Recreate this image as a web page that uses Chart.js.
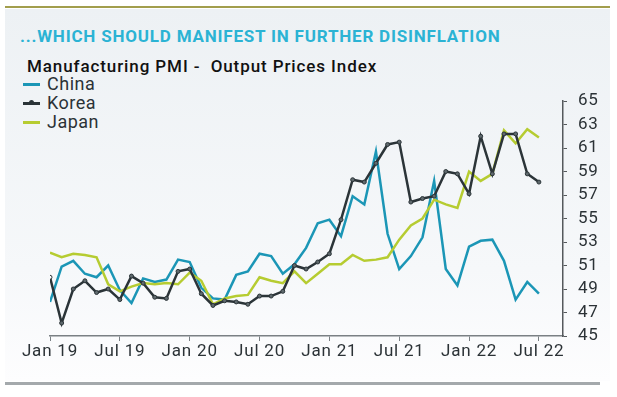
<!DOCTYPE html>
<html>
<head>
<meta charset="utf-8">
<script src="https://cdn.jsdelivr.net/npm/chart.js@4.4.0/dist/chart.umd.min.js"></script>
<style>
  body { margin: 0; width: 617px; height: 397px; background: #fff; position: relative; overflow: hidden; font-family: Roboto, sans-serif; }
  .panel { position: absolute; left: 5px; top: 9px; width: 605px; height: 372px;
           background: linear-gradient(#edf1f4, #f6f8fa 70%, #fdfdfe); }
  .topline { position: absolute; left: 5px; top: 6px; width: 605px; height: 2px; background: #a29e4c; }
  .bottomline { position: absolute; left: 5px; top: 382px; width: 595px; height: 3px; background: #a4a9ac; }
  .title { position: absolute; left: 20px; top: 26px; font-size: 17px; font-weight: 700; letter-spacing: 0.8px; color: #2bb3d4; white-space: nowrap; }
  .subtitle { position: absolute; left: 27px; top: 56px; font-size: 17px; font-weight: 500; letter-spacing: 0.9px; color: #111; white-space: nowrap; }
  .legend { position: absolute; left: 23px; top: 74px; font-size: 18px; letter-spacing: 0.5px; color: #2b3236; }
  .legend div { height: 19px; line-height: 19px; white-space: nowrap; }
  .legend span { display: inline-block; width: 17px; height: 3px; vertical-align: middle; margin-right: 7px; position: relative; top: -1px; }
  .legend span i { position: absolute; left: 6px; top: -1.5px; width: 5px; height: 5px; border-radius: 50%; background: #2b3438; }
  canvas { position: absolute; left: 0; top: 0; }
</style>
</head>
<body>
<div class="topline"></div>
<div class="panel"></div>
<div class="bottomline"></div>
<div class="title">...WHICH SHOULD MANIFEST IN FURTHER DISINFLATION</div>
<div class="subtitle">Manufacturing PMI -&nbsp; Output Prices Index</div>
<div class="legend">
  <div><span style="background:#1b96b6"></span>China</div>
  <div><span style="background:#2b3438"><i></i></span>Korea</div>
  <div><span style="background:#b6cc31"></span>Japan</div>
</div>
<canvas id="chart" width="617" height="397"></canvas>
<script>
// Monthly readings, Jan 19 .. Jul 22
const china = [47.9, 50.9, 51.4, 50.3, 50.0, 51.0, 48.9, 47.8, 49.9, 49.6, 49.8, 51.5, 51.3,
  49.1, 48.2, 48.1, 50.2, 50.5, 52.0, 51.8, 50.3, 51.1, 52.5, 54.6, 54.9, 53.5,
  56.9, 56.2, 60.7, 53.7, 50.7, 51.8, 53.4, 58.2, 50.7, 49.3, 52.6, 53.1, 53.2,
  51.4, 48.1, 49.6, 48.6];
const korea = [50.0, 46.1, 49.0, 49.7, 48.7, 49.0, 48.1, 50.1, 49.5, 48.3, 48.2, 50.5, 50.7,
  48.6, 47.6, 48.0, 47.9, 47.7, 48.4, 48.4, 48.8, 51.0, 50.7, 51.3, 52.0, 54.9,
  58.3, 58.1, 59.7, 61.3, 61.5, 56.4, 56.7, 56.9, 59.0, 58.8, 57.1, 62.0, 58.8,
  62.2, 62.2, 58.8, 58.1];
const japan = [52.1, 51.7, 52.0, 51.9, 51.7, 49.4, 48.8, 49.2, 49.5, 49.4, 49.5, 49.4, 50.4,
  49.7, 47.7, 48.2, 48.4, 48.5, 50.0, 49.7, 49.5, 50.5, 49.5, 50.3, 51.1, 51.1,
  51.9, 51.4, 51.5, 51.7, 53.2, 54.4, 55.0, 56.6, 56.2, 55.9, 59.0, 58.2, 58.8,
  62.5, 61.4, 62.6, 61.9];
const xTickLabels = ['Jan 19', 'Jul 19', 'Jan 20', 'Jul 20', 'Jan 21', 'Jul 21', 'Jan 22', 'Jul 22'];
const yTicks = [45, 47, 49, 51, 53, 55, 57, 59, 61, 63, 65];

const toPoints = arr => arr.map((v, i) => ({ x: i, y: v }));
const tickFont = { family: 'Roboto', size: 17 };

// wider letter spacing on the axis labels, like the original
const spacing = {
  id: 'spacing',
  beforeInit: chart => { chart.ctx.letterSpacing = '0.8px'; },
  beforeDraw: chart => { chart.ctx.letterSpacing = '0.8px'; }
};

const config = {
  type: 'line',
  data: {
    datasets: [{
      label: 'Korea',
      data: toPoints(korea),
      borderColor: '#2b3438',
      borderWidth: 2.5,
      pointRadius: 2,
      pointStyle: 'circle',
      pointBackgroundColor: korea.map((v, i) => i === 0 ? '#ffffff' : '#5f696d'),
      pointBorderColor: '#2b3438',
      pointBorderWidth: 1,
      order: 0
    }, {
      label: 'Japan',
      data: toPoints(japan),
      borderColor: '#b6cc31',
      borderWidth: 2.5,
      pointRadius: 0,
      order: 1
    }, {
      label: 'China',
      data: toPoints(china),
      borderColor: '#1b96b6',
      borderWidth: 2.5,
      pointRadius: 0,
      order: 2
    }]
  },
  options: {
    responsive: false,
    animation: false,
    layout: { padding: { left: 50, top: 101, right: 0, bottom: 0 } },
    plugins: { legend: { display: false }, tooltip: { enabled: false } },
    scales: {
      x: {
        type: 'linear',
        min: 0,
        max: 44.07,
        afterBuildTicks: scale => { scale.ticks = xTickLabels.map((l, i) => ({ value: i * 6 })); },
        afterFit: scale => { scale.height = 61; },
        ticks: {
          callback: v => xTickLabels[v / 6],
          font: tickFont, color: '#2b3236', padding: 1, maxRotation: 0, autoSkip: false
        },
        grid: { drawOnChartArea: false, tickLength: 5, color: '#7a8084' },
        border: { color: '#7a8084', width: 1.5 }
      },
      y: {
        position: 'right',
        min: 45,
        max: 65,
        afterBuildTicks: scale => { scale.ticks = yTicks.map(v => ({ value: v })); },
        afterFit: scale => { scale.width = 54; },
        ticks: { font: tickFont, color: '#2b3236', padding: 11 },
        grid: { drawOnChartArea: false, tickLength: 4, color: '#55595c' },
        border: { color: '#55595c', width: 1.5 }
      }
    }
  },
  plugins: [spacing]
};

const myChart = new Chart(document.getElementById('chart'), config);
</script>
</body>
</html>
